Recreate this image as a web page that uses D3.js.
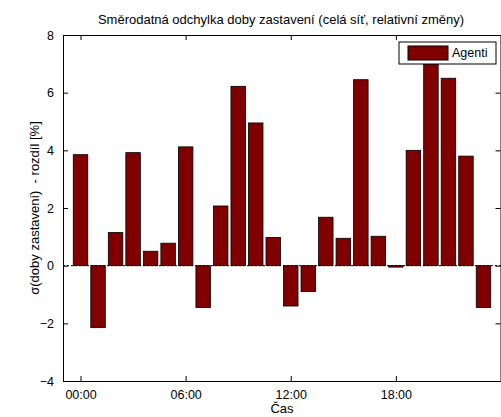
<!DOCTYPE html>
<html>
<head>
<meta charset="UTF-8">
<style>
  body { margin: 0; background: #fff; font-family: "Liberation Sans", Arial, sans-serif; }
</style>
</head>
<body>
<svg id="svg" width="501" height="417"></svg>
<script src="https://d3js.org/d3.v7.min.js"></script>
<script>
const hours = d3.range(24)
const values = [3.85, -2.15, 1.15, 3.92, 0.5, 0.78, 4.12, -1.45, 2.07, 6.22, 4.95, 0.98,
                -1.4, -0.9, 1.68, 0.95, 6.45, 1.02, -0.05, 4.0, 7.0, 6.5, 3.8, -1.45]
const xTicks = [0, 6, 12, 18]
const xTickLabels = ['00:00', '06:00', '12:00', '18:00']
const yTicks = [-4, -2, 0, 2, 4, 6, 8]

const svg = d3.select('#svg')
const mLeft = 63, mRight = 501, mTop = 35, mBottom = 381

const x = d3.scaleLinear().domain([-1, 24]).range([mLeft, mRight])
const y = d3.scaleLinear().domain([-4, 8]).range([mBottom, mTop])
const bw = 14.5

// bars
svg.append('g').selectAll('rect')
  .data(values)
  .enter().append('rect')
  .attr('x', (d, i) => x(hours[i]) - bw / 2)
  .attr('y', d => y(Math.max(0, d)))
  .attr('width', bw)
  .attr('height', d => Math.abs(y(d) - y(0)))
  .attr('fill', '#800000')
  .attr('stroke', '#000')
  .attr('stroke-width', 0.8)

// zero line
svg.append('line')
  .attr('x1', mLeft).attr('x2', mRight)
  .attr('y1', y(0)).attr('y2', y(0))
  .attr('stroke', '#000').attr('stroke-dasharray', '2,2')

// axes
const fmt = (d) => xTickLabels[xTicks.indexOf(d)]
svg.append('g').attr('transform', `translate(0,${mBottom})`)
  .call(d3.axisBottom(x).tickValues(xTicks).tickFormat(fmt).tickSizeInner(-5).tickSizeOuter(0).tickPadding(9))
svg.append('g').attr('transform', `translate(0,${mTop})`)
  .call(d3.axisTop(x).tickValues(xTicks).tickFormat('').tickSizeInner(-5).tickSizeOuter(0))
svg.append('g').attr('transform', `translate(${mLeft},0)`)
  .call(d3.axisLeft(y).tickValues(yTicks).tickSizeInner(-5).tickSizeOuter(0).tickPadding(9))
svg.append('g').attr('transform', `translate(${mRight - 0.5},0)`)
  .call(d3.axisRight(y).tickValues(yTicks).tickFormat('').tickSizeInner(-5).tickSizeOuter(0))
svg.selectAll('.domain').attr('stroke', '#000')
svg.selectAll('.tick text').attr('font-size', 12.5).attr('font-family', '"Liberation Sans", Arial, sans-serif').attr('fill', '#000')

// titles
svg.append('text').attr('x', 281).attr('y', 24).attr('text-anchor', 'middle')
  .attr('font-size', 13).text('Směrodatná odchylka doby zastavení (celá síť, relativní změny)')
svg.append('text').attr('x', 282).attr('y', 413).attr('text-anchor', 'middle')
  .attr('font-size', 13).text('Čas')
svg.append('text').attr('transform', `translate(39,${(mTop + mBottom) / 2}) rotate(-90)`)
  .attr('text-anchor', 'middle').attr('font-size', 13).style('white-space', 'pre')
  .text('σ(doby zastavení)  - rozdíl [%]')

// legend
const lg = svg.append('g')
lg.append('rect').attr('x', 399).attr('y', 42).attr('width', 97).attr('height', 22)
  .attr('fill', '#fff').attr('stroke', '#000')
lg.append('rect').attr('x', 408).attr('y', 46).attr('width', 40).attr('height', 14)
  .attr('fill', '#800000').attr('stroke', '#000')
lg.append('text').attr('x', 452).attr('y', 57).attr('font-size', 12.5).text('Agenti')
</script>
</body>
</html>
